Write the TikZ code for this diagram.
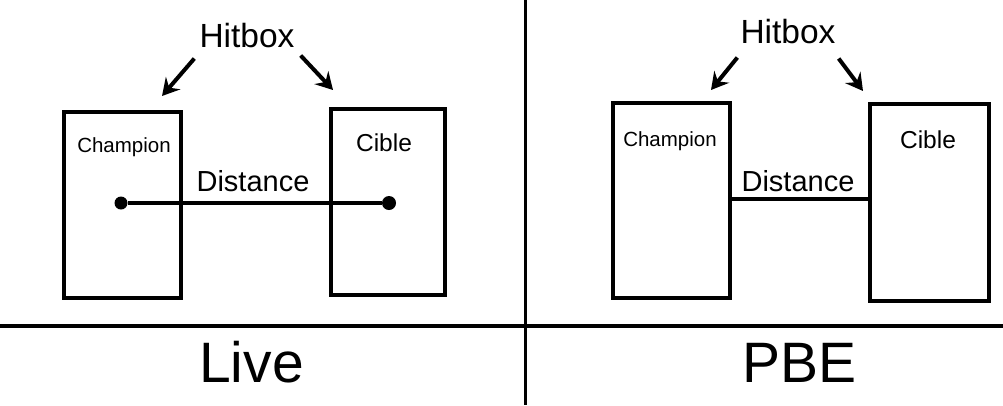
\documentclass[tikz,border=0pt]{standalone}
\usepackage{fontspec}
\setmainfont{Liberation Sans}
\usepackage{tikz}
\usetikzlibrary{arrows.meta, positioning, calc}

\begin{document}
\begin{tikzpicture}[x=1pt, y=-1pt,
  hitbox/.style={draw, line width=4pt, inner sep=0pt},
  boxlabel/.style={inner sep=0pt, anchor=base},
  tag/.style={inner sep=0pt, anchor=base, font=\fontsize{33.5}{36}\selectfont},
  gap/.style={inner sep=0pt, anchor=base, font=\fontsize{29}{31}\selectfont},
  pointer/.style={-{Stealth[length=17pt, width=19pt, inset=6pt]}, line width=4pt},
  link/.style={line width=4pt},
  dot/.style={circle, fill, inner sep=0pt, minimum size=13pt},
  divider/.style={line width=4pt}
]
  \useasboundingbox (0,0) rectangle (1003,405);

  % frame
  \draw[divider] (0,326) -- (1003,326);
  \draw[line width=3.5pt] (525.5,0) -- (525.5,405);

  % Live
  \node[hitbox, minimum width=117pt, minimum height=186pt] (champL) at (122.5,205) {};
  \node[hitbox, minimum width=114pt, minimum height=186pt] (cibleL) at (388,202) {};
  \node[boxlabel, font=\fontsize{20.5}{22}\selectfont] (champLtxt) at (124,152) {Champion};
  \node[boxlabel, font=\fontsize{24.5}{26}\selectfont] (cibleLtxt) at (384,151) {Cible};
  \node[tag] (hitL) at (247,47) {Hitbox};
  \node[gap] (distL) at (253,191) {Distance};
  \node[dot] (dotA) at (121,203) {};
  \node[dot, minimum size=14pt] (dotB) at (389,203) {};
  \coordinate (aimA) at (162,96);
  \coordinate (aimB) at (333,90);
  \draw[link] (dotA) -- (dotB);
  \draw[pointer] ([xshift=-5pt, yshift=-11pt]hitL.south west) -- (aimA);
  \draw[pointer] ([xshift=6pt, yshift=-8pt]hitL.south east) -- (aimB);
  \node[boxlabel, font=\fontsize{57}{60}\selectfont] (live) at (251.5,382) {Live};

  % PBE
  \node[hitbox, minimum width=117pt, minimum height=195pt] (champR) at (671.5,200.5) {};
  \node[hitbox, minimum width=119pt, minimum height=197pt] (cibleR) at (929.5,202.5) {};
  \node[boxlabel, font=\fontsize{20.5}{22}\selectfont] (champRtxt) at (670,146) {Champion};
  \node[boxlabel, font=\fontsize{24.5}{26}\selectfont] (cibleRtxt) at (928,148) {Cible};
  \node[tag] (hitR) at (788,43) {Hitbox};
  \node[gap] (distR) at (798,191) {Distance};
  \coordinate (aimC) at (711,90);
  \coordinate (aimD) at (863,91);
  \draw[link] ([yshift=1.5pt]champR.east) -- ([yshift=1.5pt]champR.east -| cibleR.west);
  \draw[pointer] ([xshift=-3pt, yshift=-14pt]hitR.south west) -- (aimC);
  \draw[pointer] ([xshift=3pt, yshift=-15pt]hitR.south east) -- (aimD);
  \node[boxlabel, font=\fontsize{57}{60}\selectfont] (pbe) at (799.5,382) {PBE};
\end{tikzpicture}
\end{document}
